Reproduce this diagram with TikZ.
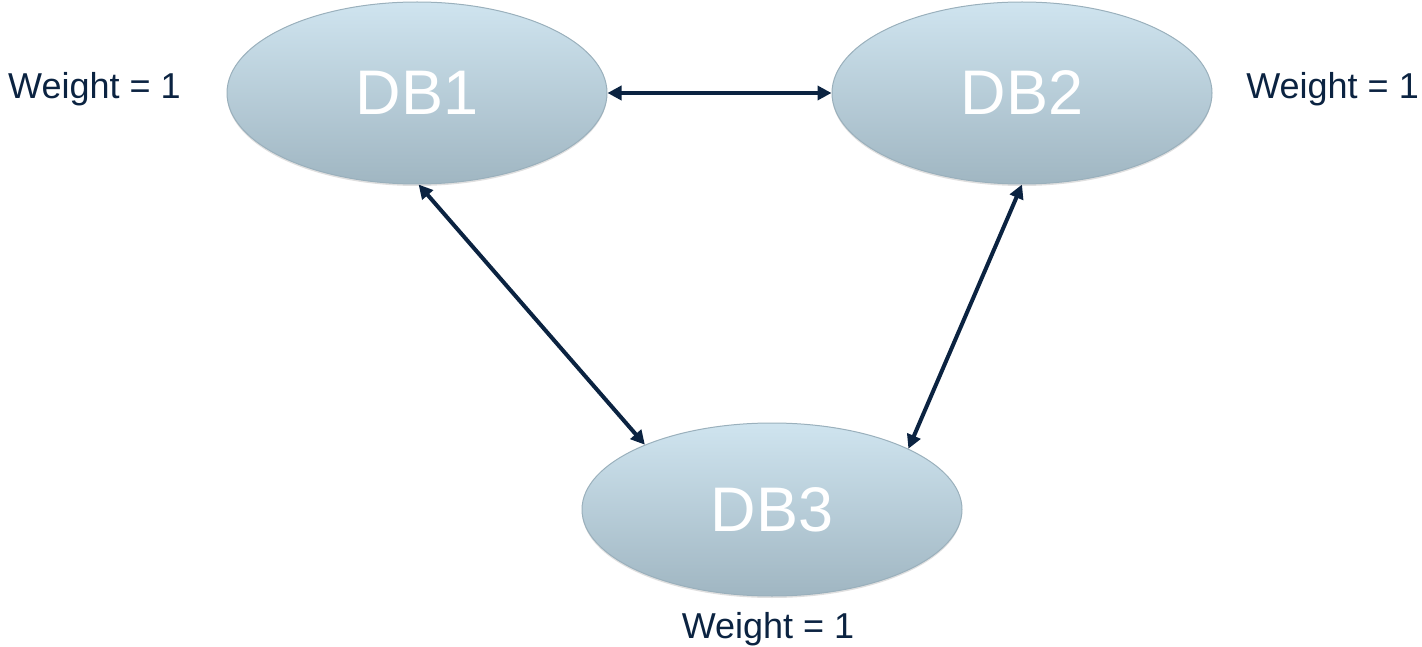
\documentclass[tikz,border=0pt]{standalone}
\usepackage{fontspec}
\setmainfont{Liberation Sans}
\usetikzlibrary{shapes.geometric,arrows.meta,shadows}
\definecolor{topc}{HTML}{CFE4EF}
\definecolor{botc}{HTML}{A0B6C2}
\definecolor{edgec}{HTML}{9AB0BC}
\definecolor{navy}{HTML}{0B2341}
\tikzset{
  dbnode/.style={ellipse, minimum width=380pt, minimum height=182pt, inner sep=0pt,
    draw=edgec, line width=1pt, top color=topc, bottom color=botc,
    drop shadow={shadow xshift=0pt, shadow yshift=-2pt, opacity=0.25},
    text=white, font=\fontsize{63}{63}\selectfont},
  wlabel/.style={text=navy, font=\fontsize{36}{36}\selectfont, inner sep=0pt},
  link/.style={draw=navy, line width=4pt, {Triangle[length=14pt,width=14pt]}-{Triangle[length=14pt,width=14pt]}}
}
\begin{document}
\begin{tikzpicture}[x=1pt,y=-1pt]
\useasboundingbox (0,0) rectangle (1422,647);
\node[dbnode] (db1) at (417,93) {DB1};
\node[dbnode] (db2) at (1022,93) {DB2};
\node[dbnode, minimum height=173pt] (db3) at (772,509.5) {DB3};
\node[wlabel, anchor=west] (w1) at (8,89) {Weight = 1};
\node[wlabel, anchor=east] (w2) at (1419,89) {Weight = 1};
\node[wlabel] (w3) at (768,629) {Weight = 1};
\draw[link] (db1.east) -- (db2.west);
\draw[link] (db1.-89) -- (db3.153);
\draw[link] (db2.-90) -- (db3.24);
\end{tikzpicture}
\end{document}
